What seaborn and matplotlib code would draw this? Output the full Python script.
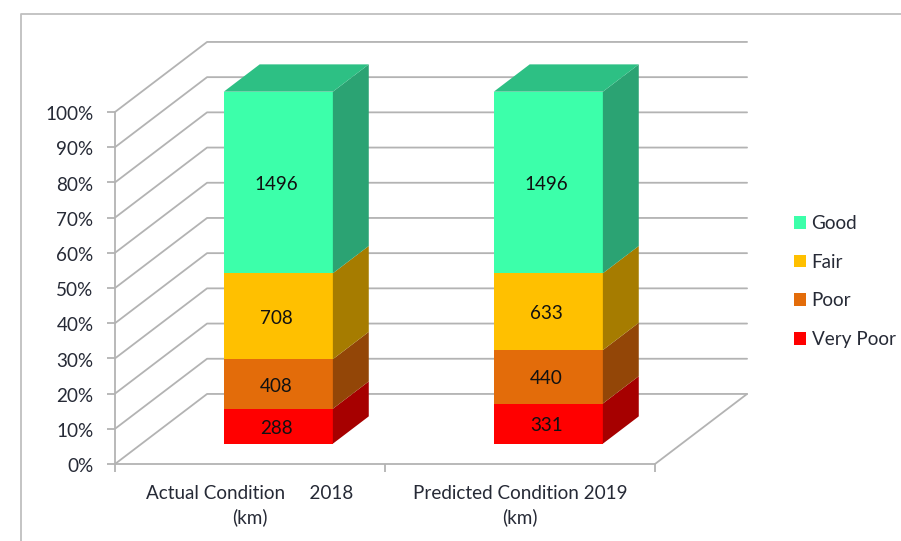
import numpy as np
import pandas as pd
import seaborn as sns
import matplotlib.pyplot as plt
from matplotlib.lines import Line2D
from matplotlib.patches import Patch, Polygon
from matplotlib.transforms import ScaledTranslation

categories = ["Actual Condition     2018\n(km)", "Predicted Condition 2019\n(km)"]
good = [1496, 1496]
fair = [708, 633]
poor = [408, 440]
very_poor = [288, 331]

series_names = ["Very Poor", "Poor", "Fair", "Good"]
series_values = [very_poor, poor, fair, good]
front_colors = ["#FF0000", "#E36C0A", "#FFC000", "#3CFFAA"]
side_colors = ["#A60000", "#934607", "#A67C00", "#2BA373"]
top_color = "#2DC084"
grid_color = "#B3B3B3"
text_color = "#262A36"
font_size = 13.6

sns.set_style("white")
plt.rcParams["font.family"] = ["Lato", "DejaVu Sans"]

W, H = 901, 541
fig = plt.figure(figsize=(W / 100, H / 100), dpi=100)
ax = fig.add_axes([115 / W, (H - 464) / H, 540 / W, 352 / H])

# fake 3d: depth of the box in data units
depth_x, depth_y = 0.341, 19.9
near, far = 0.29, 0.68
bar_width = 0.404

totals = np.sum(series_values, axis=0)
bar_x = np.arange(len(categories)) + near * depth_x + 0.006
lift = near * depth_y

bottom = np.full(len(categories), lift)
for name, values, front, side in zip(series_names, series_values, front_colors, side_colors):
    pct = 100 * np.array(values) / totals
    df = pd.DataFrame({"x": bar_x, "pct": pct})
    sns.barplot(data=df, x="x", y="pct", native_scale=True, color=front, saturation=1,
                width=bar_width, bottom=bottom, ax=ax, zorder=3, linewidth=0, errorbar=None)
    # side faces and labels
    dx, dy = (far - near) * depth_x, (far - near) * depth_y
    for xc, b, p, v in zip(bar_x, bottom, pct, values):
        r = xc + bar_width / 2
        ax.add_patch(Polygon([(r, b), (r + dx, b + dy), (r + dx, b + p + dy), (r, b + p)],
                             closed=True, fc=side, ec="none", zorder=3, clip_on=False))
        ax.annotate(str(v), (xc, b + p / 2), xytext=(-1.5, -1.5), textcoords="offset points",
                    ha="center", va="center", fontsize=font_size, color="#111111", zorder=5)
    bottom = bottom + pct

# the front faces stick out above 100% because of the lift
for patch in ax.patches:
    patch.set_clip_on(False)

dx, dy = (far - near) * depth_x, (far - near) * depth_y
for xc, top in zip(bar_x, bottom):
    l, r = xc - bar_width / 2, xc + bar_width / 2
    ax.add_patch(Polygon([(l, top), (r, top), (r + dx, top + dy), (l + dx, top + dy)],
                         closed=True, fc=top_color, ec="none", zorder=3, clip_on=False))

ax.set_xlim(-0.5, 1.5)
ax.set_ylim(0, 100)

# walls
for y in range(0, 101, 10):
    ax.plot([-0.5, -0.5 + depth_x, 1.5 + depth_x], [y, y + depth_y, y + depth_y],
            color=grid_color, lw=1.3, clip_on=False, zorder=1)
ax.plot([1.5, 1.5 + depth_x], [0, depth_y], color=grid_color, lw=1.3, clip_on=False, zorder=1)

sns.despine(ax=ax, top=True, right=True)
for side in ["left", "bottom"]:
    ax.spines[side].set_color(grid_color)
    ax.spines[side].set_linewidth(1.3)

ax.set_yticks(range(0, 101, 10))
ax.set_yticklabels([f"{v}%" for v in range(0, 101, 10)])
ax.set_xticks([-0.5, 0.5, 1.5])
ax.set_xticklabels([])
ax.set_xticks([0, 1], minor=True)
ax.set_xticklabels(categories, minor=True, linespacing=1.45)
ax.tick_params(axis="y", left=True, length=6, width=1.3, color=grid_color,
               labelsize=font_size, labelcolor=text_color, pad=9.5)
ax.tick_params(axis="x", which="major", bottom=True, length=6, width=1.3, color=grid_color)
ax.tick_params(axis="x", which="minor", bottom=False, length=0, labelsize=font_size,
               labelcolor=text_color, pad=15)
nudge = ScaledTranslation(0, -0.8 / 72, fig.dpi_scale_trans)
for label in ax.get_yticklabels():
    label.set_transform(label.get_transform() + nudge)
ax.set_xlabel("")
ax.set_ylabel("")
ax.patch.set_alpha(0)

# legend, top series first
handles = [Patch(fc=c, ec="none", label=n) for n, c in zip(series_names[::-1], front_colors[::-1])]
fig.legend(handles=handles, loc="center left", bbox_to_anchor=(794 / W, 1 - 281.5 / H),
           frameon=False, fontsize=font_size, labelcolor=text_color, handlelength=0.65,
           handleheight=0.65, handletextpad=0.28, labelspacing=1.15, borderpad=0, borderaxespad=0)

# chart area border (only left and top are in the picture)
fig.add_artist(Line2D([21 / W, 21 / W, 1], [0, 1 - 14 / H, 1 - 14 / H], color="#BFBFBF", lw=1.3))

fig.savefig("out.png", dpi=100, facecolor="white")
